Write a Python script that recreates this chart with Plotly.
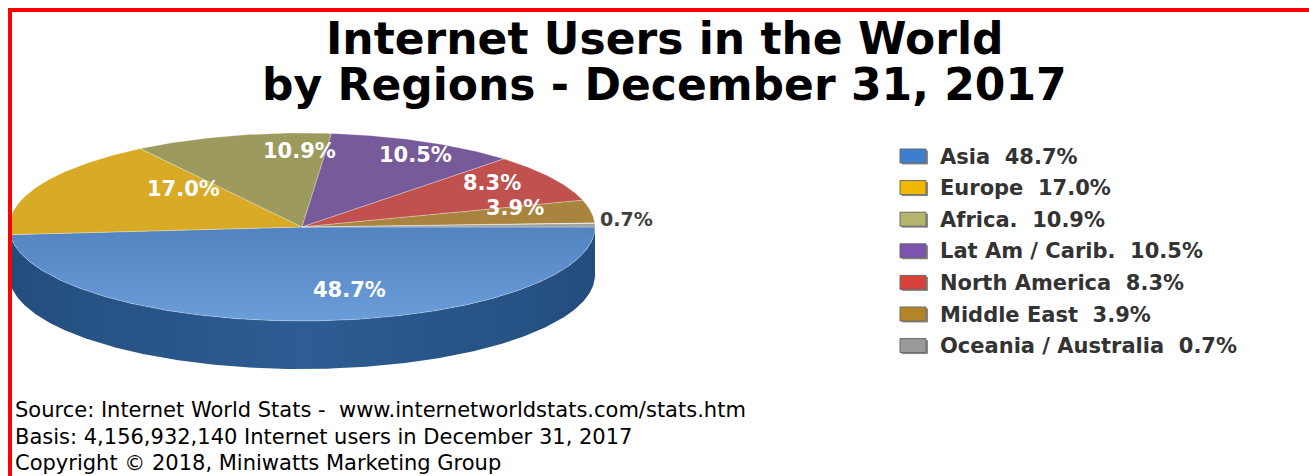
import numpy as np
import plotly.graph_objects as go

# ---------------- data ----------------
regions = ["Asia", "Europe", "Africa.", "Lat Am / Carib.", "North America",
           "Middle East", "Oceania / Australia"]
shares = [48.7, 17.0, 10.9, 10.5, 8.3, 3.9, 0.7]

title_lines = ["Internet Users in the World", "by Regions - December 31, 2017"]
footer_lines = [
    "Source: Internet World Stats -\u00a0 www.internetworldstats.com/stats.htm",
    "Basis: 4,156,932,140 Internet users in December 31, 2017",
    "Copyright \u00a9 2018, Miniwatts Marketing Group",
]

# ---------------- styles ----------------
top_colors = ["#5a8ac8", "#d8aa26", "#9c9a5c", "#775a9a", "#c1514e", "#a8843e", "#a0a0a0"]
side_colors = ["#2a588c", "#b08818", "#7c7a44", "#5a4278", "#983a38", "#866628", "#808080"]
legend_colors = ["#3f7dd0", "#f0b800", "#b4b46c", "#7d53b0", "#d8403a", "#b48428", "#9a9a9a"]

W, H = 1309, 476
cx, cy, a, b, depth = 302, 227, 293, 94, 48
FONT = "DejaVu Sans"

vals = np.array(shares, dtype=float)
ends = np.cumsum(vals) / vals.sum() * 360.0
starts = ends - vals / vals.sum() * 360.0


def arc(t0, t1):
    n = max(int(abs(t1 - t0) * 2) + 2, 3)
    t = np.radians(np.linspace(t0, t1, n))
    return cx + a * np.cos(t), cy + b * np.sin(t)


fig = go.Figure()

# side walls (front half only)
for i in range(len(vals)):
    s, e = max(starts[i], 0.0), min(ends[i], 180.0)
    if e <= s:
        continue
    xs, ys = arc(s, e)
    px = np.concatenate([xs, xs[::-1]])
    py = np.concatenate([ys, ys[::-1] + depth])
    kw = dict(fillcolor=side_colors[i])
    if i == 0:
        kw = dict(fillgradient=dict(type="horizontal",
                                    colorscale=[[0, "#244d7e"], [0.5, "#2d5d93"], [1, "#244d7e"]],
                                    start=cx - a, stop=cx + a))
    fig.add_trace(go.Scatter(x=px, y=py, mode="lines", fill="toself",
                             line=dict(width=0), hoverinfo="skip", showlegend=False, **kw))

# top surface slices
for i in range(len(vals)):
    xs, ys = arc(starts[i], ends[i])
    px = np.concatenate([[cx], xs, [cx]])
    py = np.concatenate([[cy], ys, [cy]])
    kw = dict(fillcolor=top_colors[i])
    if i == 0:
        kw = dict(fillgradient=dict(type="vertical",
                                    colorscale=[[0, "#5383c1"], [1, "#6b9dda"]],
                                    start=cy, stop=cy + b))
    fig.add_trace(go.Scatter(x=px, y=py, mode="lines", fill="toself",
                             line=dict(width=0.8, color="rgba(255,255,255,0.35)"),
                             hoverinfo="skip", showlegend=False, name=regions[i], **kw))

annotations = []
# slice labels
for i in range(len(vals)):
    mid = np.radians((starts[i] + ends[i]) / 2)
    txt = f"{shares[i]:.1f}%"
    if shares[i] < 2:
        annotations.append(dict(x=cx + a * np.cos(mid) + 3, y=cy - 6 + b * np.sin(mid), text=txt,
                                xanchor="left", yanchor="middle", showarrow=False,
                                font=dict(family=FONT, size=19, color="#404040", weight="bold")))
    else:
        annotations.append(dict(x=cx + 40 + 0.6 * a * np.cos(mid),
                                y=cy - 7.5 + 0.75 * b * np.sin(mid), text=txt,
                                xanchor="center", yanchor="middle", showarrow=False,
                                font=dict(family=FONT, size=21, color="white", weight="bold")))

# title
for j, line in enumerate(title_lines):
    annotations.append(dict(x=664, y=38 + 46 * j, text=line, xanchor="center", yanchor="middle",
                            showarrow=False, font=dict(family=FONT, size=44, color="black", weight="bold")))

# legend
shapes = []
for i in range(len(vals)):
    yy = 156.5 + 31.6 * i
    shapes.append(dict(type="rect", xref="x", yref="y", x0=902, x1=928, y0=yy - 6, y1=yy + 8,
                       fillcolor="#8a8a8a", line=dict(width=0), layer="above"))
    shapes.append(dict(type="rect", xref="x", yref="y", x0=900, x1=926, y0=yy - 7.5, y1=yy + 6.5,
                       fillcolor=legend_colors[i], line=dict(width=1, color="#6a6a6a"), layer="above"))
    annotations.append(dict(x=938, y=yy, text=f"{regions[i]}\u00a0 {shares[i]:.1f}%",
                            xanchor="left", yanchor="middle", showarrow=False,
                            font=dict(family=FONT, size=21, color="#333333", weight="bold")))

# footer
for j, line in enumerate(footer_lines):
    annotations.append(dict(x=13, y=410 + 26.5 * j, text=line, xanchor="left", yanchor="middle",
                            showarrow=False, font=dict(family=FONT, size=21, color="black")))

# red frame
shapes.append(dict(type="line", xref="x", yref="y", x0=8, x1=W, y0=10, y1=10,
                   line=dict(color="#ff0000", width=4), layer="above"))
shapes.append(dict(type="line", xref="x", yref="y", x0=10, x1=10, y0=8, y1=H,
                   line=dict(color="#ff0000", width=4), layer="above"))

fig.update_layout(
    width=W, height=H, margin=dict(l=0, r=0, t=0, b=0),
    paper_bgcolor="white", plot_bgcolor="white",
    xaxis=dict(range=[0, W], visible=False, fixedrange=True),
    yaxis=dict(range=[H, 0], visible=False, fixedrange=True),
    annotations=annotations, shapes=shapes, showlegend=False,
)

fig.write_html("out.html", config={"displayModeBar": False})
